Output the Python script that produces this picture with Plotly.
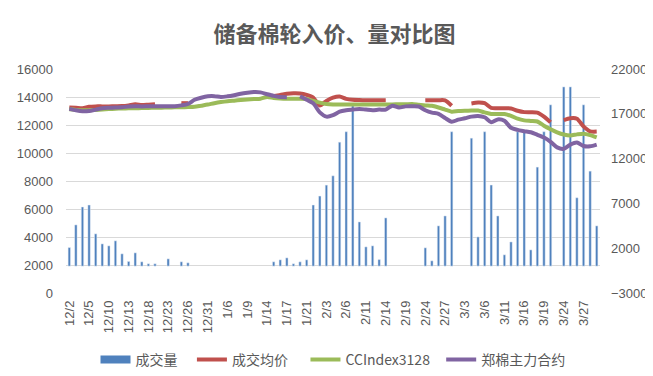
import plotly.graph_objects as go

dates = ['12/2','12/3','12/4','12/5','12/6','12/9','12/10','12/11','12/12','12/13','12/16','12/17','12/18','12/19','12/20','12/23','12/24','12/25','12/26','12/27','12/30','12/31',
         '1/2','1/3','1/6','1/7','1/8','1/9','1/10','1/13','1/14','1/15','1/16','1/17','1/19','1/20','1/21','1/22','1/23',
         '2/3','2/4','2/5','2/6','2/7','2/10','2/11','2/12','2/13','2/14','2/17','2/18','2/19','2/20','2/21','2/24','2/25','2/26','2/27','2/28',
         '3/2','3/3','3/4','3/5','3/6','3/9','3/10','3/11','3/12','3/13','3/16','3/17','3/18','3/19','3/20','3/23','3/24','3/25','3/26','3/27','3/30','3/31']

N = None
volume = [2070, 4600, 6600, 6820, 3600, 2480, 2260, 2820, 1370, 520,
          1480, 480, 260, 260, N, 810, N, 480, 370, N,
          N, N, N, N, N, N, N, N, N, N,
          N, 480, 700, 920, 260, 480, 700, 6820, 7820, 9040,
          10080, 13830, 15000, 17900, 4930, 2150, 2260, 730, 5380, N,
          N, N, N, N, 2040, 590, 4490, 5600, 15000, N,
          N, 14280, 3260, 15000, 9050, 5600, 1260, 2700, 15000, 15000,
          1810, 11050, 15000, 18000, N, 20000, 20000, 7630, 18000, 10600,
          4490]

avg_price = [13250, 13230, 13200, 13300, 13330, 13330, 13330, 13340, 13350, 13400,
             13480, 13420, 13450, 13480, N, N, N, 13560, 13560, N,
             N, N, N, N, N, N, N, N, N, N,
             N, 14080, 14150, 14240, 14260, 14250, 14150, 13960, 13400, 13720,
             13950, 14030, 13870, 13800, 13780, 13770, 13770, 13770, 13770, N,
             N, N, N, N, 13760, 13770, 13770, 13760, 13380, N,
             N, 13540, 13600, 13560, 13220, 13200, 13200, 13180, 13020, 12920,
             12910, 12880, 12600, 12200, N, 12350, 12480, 12450, 11900, 11550,
             11530]

cc_index = [13120, 13080, 13050, 13060, 13080, 13110, 13140, 13160, 13180, 13190,
            13200, 13210, 13220, 13230, 13240, 13250, 13260, 13270, 13280, 13300,
            13380, 13460, 13560, 13640, 13700, 13740, 13780, 13820, 13850, 13880,
            14000, 13930, 13890, 13870, 13870, 13870, 13850, 13720, 13600, 13500,
            13460, 13460, 13460, 13460, 13460, 13460, 13470, 13470, 13470, 13470,
            13480, 13480, 13500, 13450, 13400, 13370, 13250, 13100, 12950, 13000,
            13020, 13030, 13030, 12900, 12790, 12780, 12780, 12650, 12450, 12330,
            12290, 12250, 11950, 11700, 11480, 11320, 11250, 11330, 11380, 11280,
            11120]

zce_main = [13150, 13050, 12980, 13000, 13100, 13200, 13230, 13250, 13270, 13320,
            13340, 13330, 13340, 13340, 13340, 13340, 13340, 13400, 13500, 13800,
            13950, 14050, 14060, 14000, 14050, 14130, 14230, 14300, 14350, 14330,
            14200, 14080, 14000, 13990, N, 14050, 13800, 13550, 12900, 12600,
            12700, 12950, 13050, 13100, 13150, 13100, 13050, 13100, 13100, 13380,
            13250, 13330, 13340, 13320, 13050, 12880, 12800, 12500, 12230, 12380,
            12480, 12600, 12650, 12550, 12200, 12400, 12300, 11800, 11650, 11560,
            11480, 11300, 11100, 10800, 10400, 10300, 10600, 10750, 10500, 10480,
            10600]

left_ticks = list(range(0, 16001, 2000))
right_ticks = list(range(-3000, 22001, 5000))

GRAY = '#595959'
NB = '\u00a0'
fig = go.Figure()

fig.add_trace(go.Bar(x=dates, y=volume, name='成交量', marker_color='#4F81BD',
                     width=0.36, yaxis='y', showlegend=False))

fig.add_trace(go.Scatter(x=[dates[0]], y=[None], mode='lines', name='成交量' + NB * 3,
                         line=dict(color='#4F81BD', width=8), yaxis='y2'))

line_specs = [('成交均价' + NB * 4, avg_price, '#C0504D'),
              ('CCIndex3128' + NB * 2, cc_index, '#9BBB59'),
              ('郑棉主力合约', zce_main, '#8064A2')]
for name, vals, col in line_specs:
    fig.add_trace(go.Scatter(x=dates, y=vals, name=name, mode='lines',
                             line=dict(color=col, width=4, shape='spline', smoothing=0.7),
                             connectgaps=False, yaxis='y2'))

tf = dict(family='Liberation Sans', size=13, color=GRAY)
fig.update_layout(
    width=653, height=376, autosize=False,
    margin=dict(l=58, r=61, t=61, b=91, autoexpand=False),
    paper_bgcolor='white', plot_bgcolor='white',
    title=dict(text='<b>储备棉轮入价、量对比图</b>', x=0.5, xanchor='center', y=0.93, yanchor='middle',
               font=dict(family='Noto Sans CJK SC', size=22, color=GRAY), automargin=False),
    xaxis=dict(type='category', categoryorder='array', categoryarray=dates,
               range=[-0.5, len(dates) - 0.5],
               tickvals=dates[::3], ticktext=dates[::3], tickangle=-90,
               tickfont=tf, automargin=False,
               showgrid=False, zeroline=False, showline=False, ticks='', ticklabelstandoff=4),
    yaxis=dict(side='right', range=[-3000, 22000], tickvals=right_ticks, tickformat='d',
               showgrid=False, zeroline=False, showline=False, automargin=False,
               tickfont=tf, ticklabelstandoff=10),
    yaxis2=dict(side='left', overlaying='y', range=[0, 16000], tickvals=left_ticks, tickformat='d',
                showgrid=True, gridcolor='#D9D9D9', gridwidth=1, zeroline=False, showline=False,
                automargin=False, tickfont=tf, ticklabelstandoff=12),
    legend=dict(orientation='h', x=0.5, xanchor='center', yref='container', y=0.064, yanchor='middle',
                font=dict(family='Noto Sans CJK SC', size=14, color=GRAY),
                traceorder='normal', itemwidth=30),
    bargap=0.6,
)

fig.write_html('out.html')
